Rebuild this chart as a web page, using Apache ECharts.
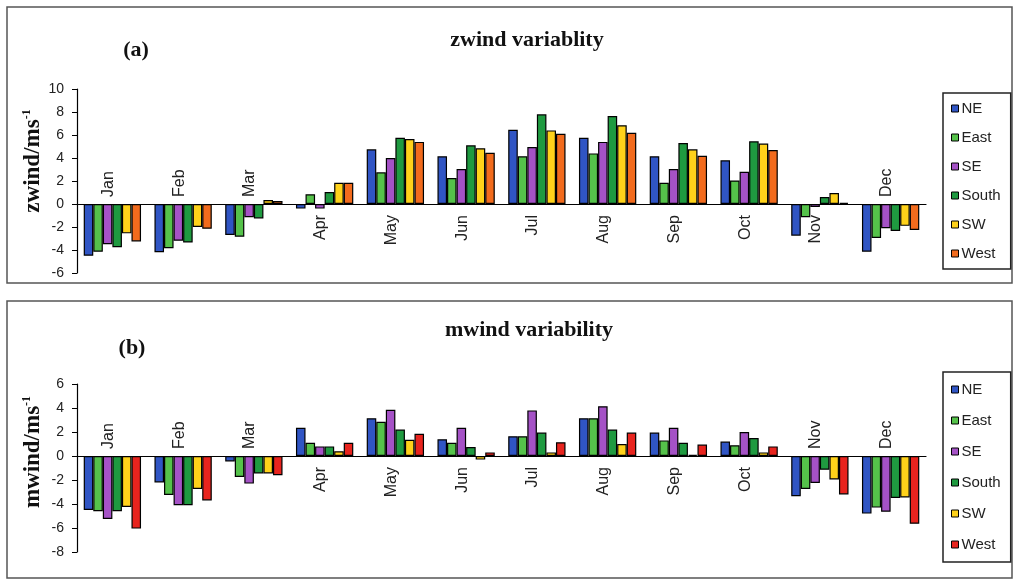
<!DOCTYPE html>
<html>
<head>
<meta charset="utf-8">
<title>zwind / mwind variability</title>
<script src="https://cdn.jsdelivr.net/npm/echarts@6/dist/echarts.min.js"></script>
<style>
  html, body { margin: 0; padding: 0; background: #fff; }
  #main { width: 1019px; height: 581px; }
</style>
</head>
<body>
<div id="main"></div>
<script>
// months and wind directions
var months = ['Jan', 'Feb', 'Mar', 'Apr', 'May', 'Jun', 'Jul', 'Aug', 'Sep', 'Oct', 'Nov', 'Dec'];
var directions = ['NE', 'East', 'SE', 'South', 'SW', 'West'];

// (a) zwind, m/s
var zwindNE    = [-4.5, -4.2, -2.7, -0.4, 4.75, 4.15, 6.45, 5.75, 4.15, 3.8, -2.75, -4.15];
var zwindEast  = [-4.15, -3.85, -2.85, 0.85, 2.75, 2.25, 4.15, 4.4, 1.85, 2.05, -1.15, -2.95];
var zwindSE    = [-3.5, -3.2, -1.15, -0.4, 4.0, 3.05, 4.95, 5.4, 3.05, 2.8, -0.25, -2.1];
var zwindSouth = [-3.75, -3.35, -1.25, 1.05, 5.75, 5.1, 7.8, 7.65, 5.3, 5.45, 0.6, -2.35];
var zwindSW    = [-2.55, -2.0, 0.35, 1.85, 5.65, 4.85, 6.4, 6.85, 4.75, 5.25, 0.95, -1.9];
var zwindWest  = [-3.25, -2.15, 0.25, 1.85, 5.4, 4.45, 6.1, 6.2, 4.2, 4.7, 0.1, -2.25];

// (b) mwind, m/s
var mwindNE    = [-4.5, -2.2, -0.45, 2.35, 3.15, 1.4, 1.65, 3.15, 1.95, 1.2, -3.35, -4.8];
var mwindEast  = [-4.6, -3.25, -1.75, 1.1, 2.85, 1.1, 1.65, 3.15, 1.3, 0.9, -2.75, -4.3];
var mwindSE    = [-5.25, -4.1, -2.3, 0.8, 3.85, 2.35, 3.8, 4.15, 2.35, 2.0, -2.25, -4.65];
var mwindSouth = [-4.6, -4.1, -1.45, 0.8, 2.2, 0.75, 1.95, 2.2, 1.1, 1.5, -1.15, -3.5];
var mwindSW    = [-4.25, -2.75, -1.45, 0.4, 1.35, -0.3, 0.3, 1.0, 0.1, 0.3, -1.95, -3.45];
var mwindWest  = [-6.05, -3.7, -1.6, 1.1, 1.85, 0.3, 1.15, 1.95, 0.95, 0.8, -3.2, -5.65];

var colorsA = ['#3055c4', '#55c24a', '#a552c6', '#1f9a40', '#ffd21a', '#f26b1d'];
var colorsB = ['#3055c4', '#55c24a', '#a552c6', '#1f9a40', '#ffd21a', '#e8241e'];

// month labels drawn above the zero line (others go below)
var aboveA = ['Jan', 'Feb', 'Mar', 'Dec'];
var aboveB = ['Jan', 'Feb', 'Mar', 'Nov', 'Dec'];

var sans = 'Liberation Sans';
var serif = 'Liberation Serif';

function barSeries(name, data, color, idx) {
    return {
        name: name,
        type: 'bar',
        xAxisIndex: idx,
        yAxisIndex: idx,
        data: data,
        barGap: 0,
        barCategoryGap: '19%',
        itemStyle: { color: color, borderColor: '#000', borderWidth: 1.2 },
        emphasis: { disabled: true }
    };
}

function monthLabels(idx, above) {
    return {
        type: 'custom',
        xAxisIndex: idx,
        yAxisIndex: idx,
        silent: true,
        z: 5,
        data: months.map(function (m, i) { return [i, 0]; }),
        renderItem: function (params, api) {
            var i = api.value(0);
            var p = api.coord([i, 0]);
            var up = above.indexOf(months[i]) >= 0;
            return {
                type: 'text',
                x: p[0] - 4,
                y: up ? p[1] - 7 : p[1] + 11,
                rotation: Math.PI / 2,
                style: {
                    text: months[i],
                    textAlign: up ? 'left' : 'right',
                    textVerticalAlign: 'middle',
                    font: '16px "' + sans + '"',
                    fill: '#222'
                }
            };
        }
    };
}

function xAxis(idx) {
    return {
        type: 'category',
        gridIndex: idx,
        data: months,
        axisLine: { onZero: true, lineStyle: { color: '#000', width: 1.2 } },
        axisTick: { length: 4, lineStyle: { color: '#000' } },
        axisLabel: { show: false },
        splitLine: { show: false }
    };
}

// shift = how far the rotated axis name sits above the middle of the axis
function yAxis(idx, min, max, label, shift) {
    return {
        type: 'value',
        gridIndex: idx,
        min: min,
        max: max,
        interval: 2,
        name: '{a|' + label + '}{s|-1}',
        nameLocation: 'middle',
        nameRotate: 90,
        nameGap: 32,
        nameMoveOverlap: false,
        nameTextStyle: {
            padding: [0, 0, 0, shift * 2],
            rich: {
                a: { fontFamily: serif, fontWeight: 'bold', fontSize: 23, color: '#111', lineHeight: 24 },
                s: { fontFamily: serif, fontWeight: 'bold', fontSize: 12, color: '#111', verticalAlign: 'top', lineHeight: 24 }
            }
        },
        axisLine: { show: true, lineStyle: { color: '#000', width: 1.2 } },
        axisTick: { show: true, length: 5, lineStyle: { color: '#000' } },
        axisLabel: { fontFamily: sans, fontSize: 14, color: '#222', margin: 13 },
        splitLine: { show: false }
    };
}

function legendData(colors) {
    return directions.map(function (d, i) {
        return { name: d, itemStyle: { color: colors[i], borderColor: '#000', borderWidth: 1 } };
    });
}

function legend(top, gap, pad, colors) {
    return {
        orient: 'vertical',
        left: 943,
        top: top,
        itemWidth: 7,
        itemHeight: 7,
        itemGap: gap,
        icon: 'rect',
        padding: pad,
        borderColor: '#222',
        borderWidth: 1.5,
        selectedMode: false,
        data: legendData(colors),
        textStyle: { fontFamily: sans, fontSize: 15, color: '#222', padding: [0, 0, 0, -2] }
    };
}

var zwind = [zwindNE, zwindEast, zwindSE, zwindSouth, zwindSW, zwindWest];
var mwind = [mwindNE, mwindEast, mwindSE, mwindSouth, mwindSW, mwindWest];

var series = [];
directions.forEach(function (d, i) {
    series.push(barSeries(d, zwind[i], colorsA[i], 0));
});
directions.forEach(function (d, i) {
    series.push(barSeries(d, mwind[i], colorsB[i], 1));
});
series.push(monthLabels(0, aboveA));
series.push(monthLabels(1, aboveB));

var titleFont = { fontFamily: serif, fontWeight: 'bold', fontSize: 22, color: '#111' };

var option = {
    backgroundColor: '#fff',
    animation: false,
    title: [
        { text: 'zwind variablity', left: 522, top: 24, textAlign: 'center', textStyle: titleFont },
        { text: '(a)', left: 131, top: 34, textAlign: 'center', textStyle: titleFont },
        { text: 'mwind variability', left: 524, top: 314, textAlign: 'center', textStyle: titleFont },
        { text: '(b)', left: 127, top: 332, textAlign: 'center', textStyle: titleFont }
    ],
    legend: [
        legend(93, 14, [8, 10, 8, 8], colorsA),
        legend(372, 16, [10, 10, 10, 8], colorsB)
    ],
    grid: [
        { left: 77, top: 89, width: 849, height: 184 },
        { left: 77, top: 384, width: 849, height: 168 }
    ],
    xAxis: [xAxis(0), xAxis(1)],
    yAxis: [yAxis(0, -6, 10, 'zwind/ms', 20), yAxis(1, -8, 6, 'mwind/ms', 16)],
    graphic: [
        { type: 'rect', shape: { x: 7, y: 7, width: 1005, height: 276 }, style: { fill: null, stroke: '#555', lineWidth: 1.5 }, silent: true },
        { type: 'rect', shape: { x: 7, y: 301, width: 1005, height: 277 }, style: { fill: null, stroke: '#555', lineWidth: 1.5 }, silent: true }
    ],
    series: series
};

var myChart = echarts.init(document.getElementById('main'));
myChart.setOption(option);
</script>
</body>
</html>
